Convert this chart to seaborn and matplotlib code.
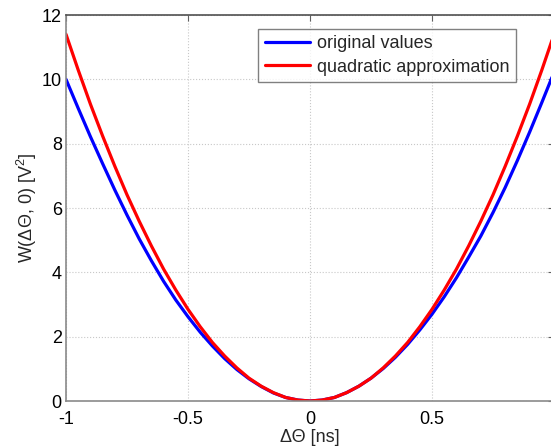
import matplotlib
matplotlib.use("Agg")
import matplotlib.pyplot as plt
import numpy as np
import pandas as pd
import seaborn as sns

# delta theta in ns
dtheta = [-1.00, -0.95, -0.90, -0.85, -0.80, -0.75, -0.70, -0.65, -0.60, -0.55,
          -0.50, -0.45, -0.40, -0.35, -0.30, -0.25, -0.20, -0.15, -0.10, -0.05,
          0.00, 0.05, 0.10, 0.15, 0.20, 0.25, 0.30, 0.35, 0.40, 0.45,
          0.50, 0.55, 0.60, 0.65, 0.70, 0.75, 0.80, 0.85, 0.90, 0.95, 1.00]

original_values = [10.00, 9.10, 8.22, 7.38, 6.56, 5.78, 5.04, 4.36, 3.72, 3.14,
                   2.62, 2.14, 1.71, 1.32, 0.98, 0.69, 0.45, 0.25, 0.11, 0.03,
                   0.00, 0.03, 0.11, 0.26, 0.46, 0.71, 1.01, 1.36, 1.76, 2.21,
                   2.70, 3.24, 3.83, 4.47, 5.13, 5.86, 6.64, 7.48, 8.36, 9.28, 10.22]

quadratic_approx = [11.40, 10.29, 9.23, 8.24, 7.30, 6.41, 5.59, 4.82, 4.10, 3.45,
                    2.85, 2.31, 1.82, 1.40, 1.03, 0.71, 0.46, 0.26, 0.11, 0.03,
                    0.00, 0.03, 0.11, 0.26, 0.46, 0.71, 1.03, 1.40, 1.82, 2.31,
                    2.85, 3.45, 4.10, 4.82, 5.59, 6.41, 7.30, 8.24, 9.23, 10.29, 11.40]

series_names = ["original values", "quadratic approximation"]
series_colors = ["#0000ff", "#ff0000"]
x_ticks = [-1, -0.5, 0, 0.5, 1]
x_tick_labels = ["-1", "-0.5", "0", "0.5", ""]  # the "1" falls off the cropped edge
y_ticks = [0, 2, 4, 6, 8, 10, 12]

df = pd.concat([
    pd.DataFrame({"x": dtheta, "W": original_values, "series": series_names[0]}),
    pd.DataFrame({"x": dtheta, "W": quadratic_approx, "series": series_names[1]}),
])

sns.set_theme(style="white")
plt.rcParams["font.family"] = ["Liberation Sans", "DejaVu Sans"]
plt.rcParams["mathtext.fontset"] = "custom"
plt.rcParams["mathtext.rm"] = "Liberation Sans"
plt.rcParams["mathtext.it"] = "Liberation Sans:italic"
plt.rcParams["axes.unicode_minus"] = False

fig = plt.figure(figsize=(5.51, 4.48), dpi=100)
ax = fig.add_axes([0.1198, 0.1049, 0.8857, 0.8616])

sns.lineplot(data=df, x="x", y="W", hue="series", palette=series_colors,
             linewidth=2.3, ax=ax, sort=False)

ax.set_xlim(-1, 1)
ax.set_ylim(0, 12)
ax.set_xticks(x_ticks)
ax.set_xticklabels(x_tick_labels)
ax.set_yticks(y_ticks)
ax.grid(True, linestyle=":", color="#c8c8c8", linewidth=0.8)

ax.tick_params(direction="in", length=4, width=0.8, colors="#606060",
               labelcolor="black", labelsize=13, top=True, right=True)
ax.tick_params(axis="x", pad=7)
ax.tick_params(axis="y", pad=3)
for side in ["left", "bottom", "right"]:
    ax.spines[side].set_color("#8a8a8a")
    ax.spines[side].set_linewidth(1.2)
ax.spines["top"].set_color("#505050")
ax.spines["top"].set_linewidth(1.2)

ax.set_xlabel("ΔΘ [ns]", fontsize=13, labelpad=1)
ax.set_ylabel("W(ΔΘ, 0) [V$^2$]", fontsize=13, labelpad=2)

leg = ax.legend(loc="upper right", bbox_to_anchor=(0.922, 0.964), fontsize=13,
                frameon=True, fancybox=False, edgecolor="#606060",
                handlelength=2.5, handletextpad=0.4, borderpad=0.35,
                labelspacing=0.35, borderaxespad=0)
leg.get_frame().set_linewidth(1.0)

fig.savefig("out.png", dpi=100)
